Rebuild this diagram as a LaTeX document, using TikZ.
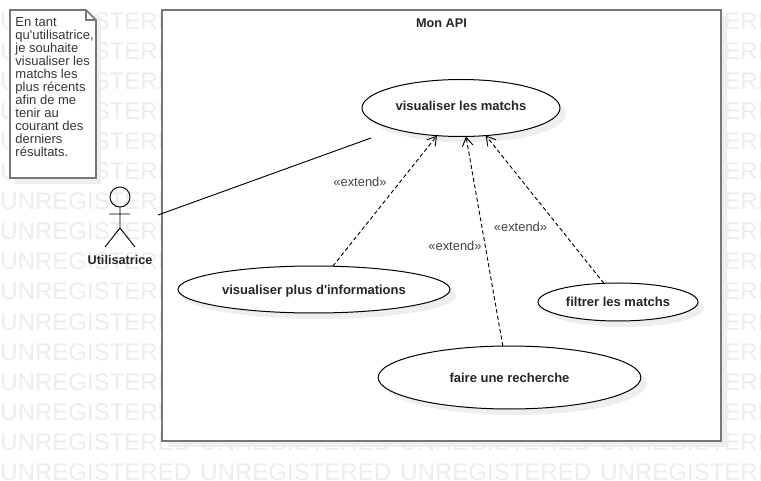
\documentclass[tikz,border=0pt]{standalone}
\usepackage{fontspec}
\setmainfont{Liberation Sans}
\usetikzlibrary{arrows.meta,shapes.geometric,shadows}
\definecolor{framegray}{HTML}{777777}
\definecolor{shadegray}{HTML}{EEEEEE}
\definecolor{markgray}{HTML}{EDEDED}
\definecolor{labelgray}{HTML}{444444}
\tikzset{
  softshade/.style={general shadow={fill=shadegray,shadow xshift=4.5pt,shadow yshift=-4.5pt}},
  usecase/.style={draw, ellipse, fill=white, softshade, inner sep=0pt, outer sep=0pt, line width=0.75pt, text=black!85, font=\bfseries\fontsize{9.75}{11}\selectfont},
  watermark/.style={anchor=base west, inner sep=0pt, text=markgray, font=\fontsize{18}{20}\selectfont},
  stereo/.style={text=labelgray, inner sep=0pt, font=\fontsize{9.7}{11}\selectfont},
  extendline/.style={dashed, line width=0.7pt, dash pattern=on 3pt off 2pt, -{Straight Barb[length=6.5pt,width=8pt]}}
}
\begin{document}
\begin{tikzpicture}[x=0.75pt, y=-0.75pt, line width=0.7pt]
\useasboundingbox (0,0) rectangle (761,481);
\fill[white] (0,0) rectangle (761,481);

\begin{scope}
\clip (0,0) rectangle (761,481);
\foreach \row in {1,...,16}
  \foreach \col in {0,...,3}
    \node[watermark] (mark\row\col) at ({\col*200},{\row*30}) {UNREGISTERED};
\end{scope}

% system frame
\node[draw=framegray, line width=1.6pt, fill=white, softshade, minimum width=419pt, minimum height=323pt, inner sep=0pt, outer sep=0pt] (api) at (441.5,225.5) {};
\node[inner sep=0pt, text=black!85, font=\bfseries\fontsize{9.5}{11}\selectfont] (apititle) at (441.5,23) {Mon API};

% note
\fill[shadegray] (15,16) -- (101,16) -- (101,184) -- (15,184) -- cycle;
\draw[framegray, fill=white, line width=1.3pt] (10,10) -- (86,10) -- (96,20) -- (96,178) -- (10,178) -- cycle;
\draw[framegray, line width=1pt] (86,10) -- (86,20) -- (96,20);
\node[anchor=north west, align=left, inner sep=0pt, text=labelgray!80!black, font=\fontsize{9.75}{9.75}\selectfont] (story) at (15,17) {En tant\\qu\textquotesingle utilisatrice,\\je souhaite\\visualiser les\\matchs les\\plus récents\\afin de me\\tenir au\\courant des\\derniers\\résultats.};

% actor
\node[draw, circle, minimum size=15pt, inner sep=0pt, outer sep=0pt] (head) at (120,197) {};
\coordinate (hip) at (120,228);
\coordinate (armleft) at (109,214);
\coordinate (armright) at (130,214);
\coordinate (footleft) at (105,247);
\coordinate (footright) at (135,247);
\draw (head.south) -- (hip) (armleft) -- (armright) (footleft) -- (hip) -- (footright);
\node[inner sep=0pt, text=black!85, font=\bfseries\fontsize{9.5}{11}\selectfont] (actorname) at (120,260) {Utilisatrice};

% use cases
\node[usecase, minimum width=148.5pt, minimum height=42.75pt, text depth=4pt] (matchs) at (461,108) {visualiser les matchs};
\node[usecase, minimum width=204pt, minimum height=35.25pt, text height=10pt, text depth=2pt] (infos) at (314,289.5) {visualiser plus d\textquotesingle informations};
\node[usecase, minimum width=120pt, minimum height=28.5pt] (filtre) at (618,302) {filtrer les matchs};
\node[usecase, minimum width=197pt, minimum height=47.25pt] (recherche) at (509.5,377.5) {faire une recherche};

% connectors
\coordinate (actorend) at (158,215);
\coordinate (matchsend) at (371,138);
\draw (actorend) -- (matchsend);
\draw[extendline] (infos.51) -- (matchs.229);
\draw[extendline] (recherche.102) -- (matchs.280);
\draw[extendline] (filtre.127) -- (matchs.312);

\node[stereo] (ext1) at (360,182) {«extend»};
\node[stereo] (ext2) at (455,246) {«extend»};
\node[stereo] (ext3) at (520.5,227) {«extend»};
\end{tikzpicture}
\end{document}
